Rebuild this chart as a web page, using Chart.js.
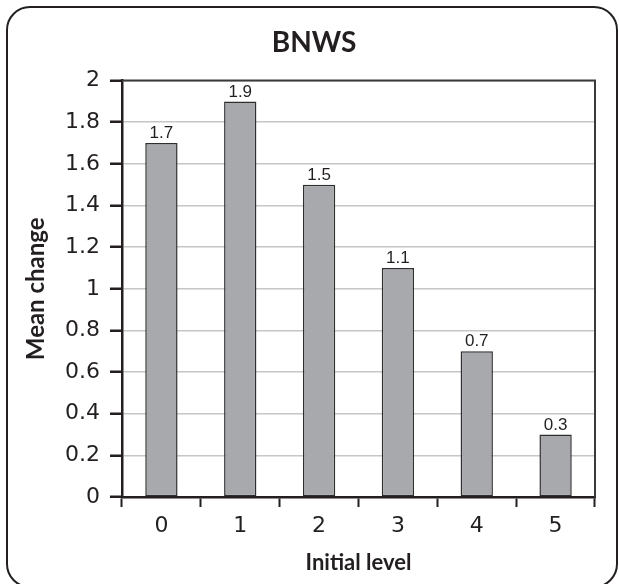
<!DOCTYPE html>
<html>
<head>
<meta charset="utf-8">
<script src="https://cdn.jsdelivr.net/npm/chart.js@4/dist/chart.umd.min.js"></script>
<style>
  html, body { margin: 0; padding: 0; background: #ffffff; overflow: hidden; }
  #wrap { position: relative; width: 619px; height: 584px; overflow: hidden; }
  #frame { position: absolute; left: 6px; top: 6px; width: 608px; height: 578px;
           border: 2.5px solid #231f20; border-radius: 24px; box-sizing: content-box; }
  canvas { position: absolute; left: 0; top: 0; }
</style>
</head>
<body>
<div id="wrap">
  <div id="frame"></div>
  <canvas id="c" width="619" height="584"></canvas>
</div>
<script>
const categories = ["0", "1", "2", "3", "4", "5"];
const meanChange = [1.7, 1.9, 1.5, 1.1, 0.7, 0.3];
const valueLabels = ["1.7", "1.9", "1.5", "1.1", "0.7", "0.3"];
const yTickLabels = ["0", "0.2", "0.4", "0.6", "0.8", "1", "1.2", "1.4", "1.6", "1.8", "2"];

const INK = "#231f20";
const titleFont = "Lato, 'Open Sans', sans-serif";
const tickFont = "'DejaVu Sans', Lato, sans-serif";

const valueLabelPlugin = {
  id: "valueLabels",
  afterDatasetsDraw(chart) {
    const ctx = chart.ctx;
    const meta = chart.getDatasetMeta(0);
    ctx.save();
    ctx.fillStyle = INK;
    ctx.font = "17px 'Liberation Sans Narrow', 'Liberation Sans', sans-serif";
    ctx.textAlign = "center";
    ctx.textBaseline = "bottom";
    meta.data.forEach((bar, i) => {
      ctx.fillText(valueLabels[i], bar.x, bar.y - 1);
    });
    ctx.restore();
  }
};

const boxPlugin = {
  id: "plotBox",
  afterDraw(chart) {
    const a = chart.chartArea;
    const ctx = chart.ctx;
    ctx.save();
    ctx.strokeStyle = "#3a3a3a";
    ctx.lineWidth = 2;
    ctx.beginPath();
    ctx.moveTo(a.left, a.top);
    ctx.lineTo(a.right, a.top);
    ctx.lineTo(a.right, a.bottom);
    ctx.stroke();
    ctx.restore();
  }
};

new Chart(document.getElementById("c"), {
  type: "bar",
  data: {
    labels: categories,
    datasets: [{
      data: meanChange,
      backgroundColor: "#a7a9ac",
      borderColor: "#2e2e2e",
      borderWidth: 1.5,
      borderSkipped: false,
      barPercentage: 0.41,
      categoryPercentage: 1.0,
      yAxisID: "y"
    }]
  },
  options: {
    responsive: false,
    animation: false,
    devicePixelRatio: 1,
    layout: { padding: { left: 9, right: 0, top: 0, bottom: 0 } },
    plugins: {
      legend: { display: false },
      tooltip: { enabled: false },
      title: {
        display: true,
        text: "BNWS",
        color: INK,
        font: { family: titleFont, size: 28, weight: "bold", lineHeight: 1.2 },
        padding: { top: 26, bottom: 21 }
      }
    },
    scales: {
      x: {
        afterFit(scale) { scale.height = 87; },
        grid: {
          offset: true,
          drawOnChartArea: false,
          drawTicks: true,
          tickLength: 10,
          tickColor: INK,
          tickWidth: 2
        },
        border: { display: true, color: INK, width: 2.5 },
        ticks: {
          color: INK,
          padding: 6,
          font: { family: tickFont, size: 22 }
        },
        title: {
          display: true,
          text: "Initial level",
          color: INK,
          font: { family: titleFont, size: 22, weight: "bold", lineHeight: 1.2 },
          padding: { top: 0, bottom: 8 }
        }
      },
      y: {
        min: 0,
        max: 2,
        afterFit(scale) { scale.width = 113; },
        grid: {
          color: "#c6c6c6",
          lineWidth: 1.5,
          drawTicks: true,
          tickLength: 12,
          tickColor: INK,
          tickWidth: 2.5
        },
        border: { display: true, color: INK, width: 2.5 },
        ticks: {
          stepSize: 0.2,
          color: INK,
          padding: 10,
          font: { family: tickFont, size: 22 },
          callback: (v, i) => yTickLabels[i]
        },
        title: {
          display: true,
          text: "Mean change",
          color: INK,
          font: { family: titleFont, size: 24, weight: "bold", lineHeight: 1.2 },
          padding: { top: 13, bottom: 0 }
        }
      },
      yRight: {
        position: "right",
        display: true,
        afterFit(scale) { scale.width = 24; },
        grid: { display: false },
        border: { display: false },
        ticks: { display: false }
      }
    }
  },
  plugins: [valueLabelPlugin, boxPlugin]
});
</script>
</body>
</html>
